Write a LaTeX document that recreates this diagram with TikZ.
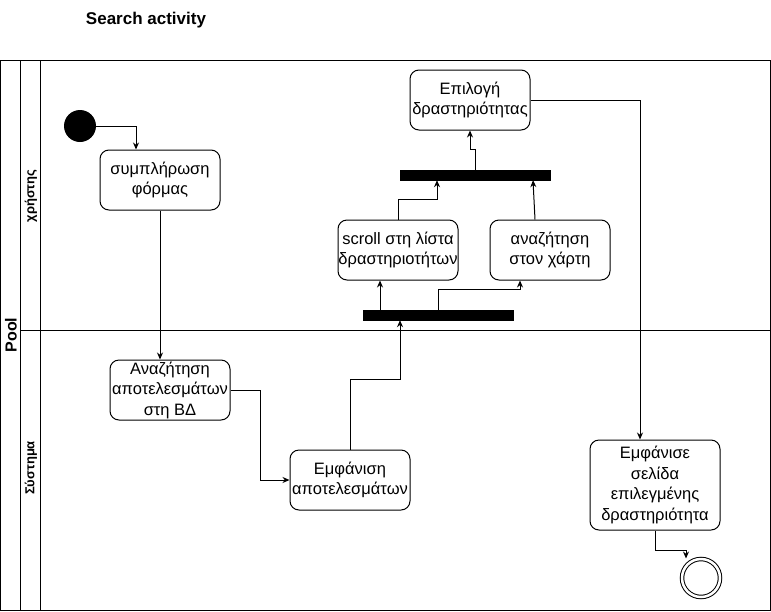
\documentclass[tikz,border=0pt]{standalone}
\usepackage{fontspec}
\setmainfont{Liberation Sans}
\usepackage{tikz}
\usetikzlibrary{arrows.meta, positioning, calc}

\begin{document}
\begin{tikzpicture}[
    x=1pt, y=-1pt,
    font=\fontsize{16.5}{20.5}\selectfont,
    >={Stealth[length=7pt,width=6pt]},
    % Styles
    action/.style={
      draw=black,
      fill=white,
      line width=1pt,
      rounded corners=9pt,
      align=center,
      minimum width=120pt,
      minimum height=60pt,
      inner sep=0pt
    },
    bar/.style={
      draw=black,
      fill=black,
      minimum width=150pt,
      minimum height=10pt,
      inner sep=0pt
    },
    lanelabel/.style={
      font=\fontsize{13}{15}\selectfont\bfseries,
      rotate=90
    },
    arrow/.style={
      ->,
      line width=1pt,
      draw=black
    }
  ]
    \useasboundingbox (0,0) rectangle (771,611);

    % Pool and lanes
    \draw [line width=1pt] (0,60) rectangle (770,610);
    \draw [line width=1pt] (20,60) -- (20,610);
    \draw [line width=1pt] (40,60) -- (40,610);
    \draw [line width=1pt] (20,330) -- (770,330);

    % Labels
    \node (title) [font=\fontsize{17}{19}\selectfont\bfseries] at (146,20) {Search activity};
    \node (pool) [lanelabel, font=\fontsize{16}{18}\selectfont\bfseries] at (11,335) {Pool};
    \node (user) [lanelabel] at (31,196) {χρήστης};
    \node (system) [lanelabel] at (31,468) {Σύστημα};

    % Start and end
    \node (start) [circle, fill=black, minimum size=32pt, inner sep=0pt] at (80,126) {};
    \node (end) [circle, draw=black, line width=1pt, double, double distance=2.5pt, minimum size=38pt, inner sep=0pt] at (701,578) {};

    % Actions
    \node (form) [action] at (160,180) {συμπλήρωση\\φόρμας};
    \node (search) [action] at (170,390) {Αναζήτηση\\αποτελεσμάτων\\στη ΒΔ};
    \node (show) [action] at (350,480) {Εμφάνιση\\αποτελεσμάτων};
    \node (scroll) [action] at (398,250) {scroll στη λίστα\\δραστηριοτήτων};
    \node (map) [action] at (550,250) {αναζήτηση\\στον χάρτη};
    \node (select) [action] at (470,100) {Επιλογή\\δραστηριότητας};
    \node (page) [action, minimum width=130pt, minimum height=90pt] at (655,485) {Εμφάνισε\\σελίδα\\επιλεγμένης\\δραστηριότητα};

    % Fork and join bars
    \node (fork) [bar] at (438,315) {};
    \node (join) [bar] at (475,175) {};

    % Connections
    \draw [arrow] (start.east) -| ([xshift=-24pt]form.north);
    \draw [arrow] (form.south) -- (form.south |- search.north);
    \draw [arrow] (search.east) -- ++(30,0) |- (show.west);
    \draw [arrow] (show.north) -- ++(0,-70) -| ([xshift=-38pt]fork.south);

    \draw [arrow] ([xshift=-58pt]fork.north) -- ([xshift=-58pt]fork.north |- scroll.south);
    \draw [arrow] (fork.north) -- ++(0,-20) -| ([xshift=-30pt]map.south);

    \draw [arrow] (scroll.north) -- ++(0,-20) -| ([xshift=-38pt]join.south);
    \draw [arrow] ([xshift=-15pt]map.north) -- ([xshift=58pt]join.south);
    \draw [arrow] (join.north) -- ++(0,-20) -| (select.south);

    \draw [arrow] (select.east) -| ([xshift=-15pt]page.north);
    \draw [arrow] (page.south) -- ++(0,20) -| ([xshift=-15pt]end.north);

  \end{tikzpicture}
\end{document}
